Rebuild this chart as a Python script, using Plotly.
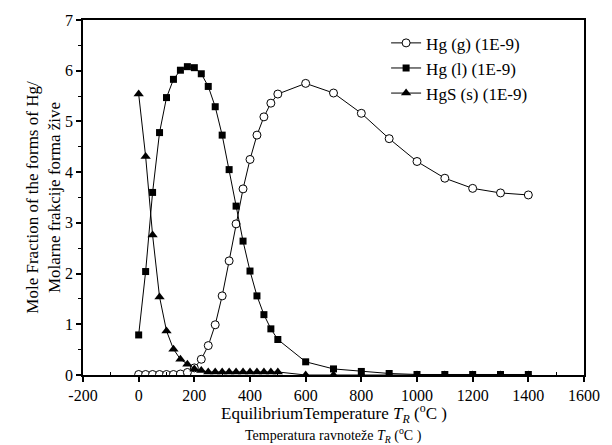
import plotly.graph_objects as go

T_low = [0, 25, 50, 75, 100, 125, 150, 175, 200, 225, 250, 275, 300, 325, 350,
         375, 400, 425, 450, 475, 500]
T_high = [600, 700, 800, 900, 1000, 1100, 1200, 1300, 1400]
T = T_low + T_high

hg_g = [0.01, 0.01, 0.01, 0.01, 0.01, 0.01, 0.02, 0.05, 0.14, 0.31, 0.58, 0.99, 1.56,
        2.25, 2.98, 3.67, 4.25, 4.73, 5.09, 5.36, 5.54,
        5.75, 5.56, 5.16, 4.66, 4.21, 3.88, 3.68, 3.59, 3.55]
hg_l = [0.79, 2.04, 3.60, 4.78, 5.47, 5.83, 6.01, 6.08, 6.06, 5.94, 5.69, 5.29, 4.73,
        4.05, 3.33, 2.64, 2.05, 1.56, 1.19, 0.91, 0.70,
        0.26, 0.12, 0.07, 0.03, 0.01, 0.01, 0.01, 0.01, 0.01]
hgs_s = [5.54, 4.31, 2.76, 1.54, 0.87, 0.51, 0.31, 0.21, 0.12, 0.09, 0.06, 0.06, 0.06,
         0.06, 0.06, 0.06, 0.06, 0.06, 0.06, 0.06, 0.06,
         0.0, 0.0, 0.0, 0.0, 0.0, 0.0, 0.0, 0.0, 0.0]

names = ["Hg (g) (1E-9)", "Hg (l) (1E-9)", "HgS (s) (1E-9)"]

x_tickvals = [-200, 0, 200, 400, 600, 800, 1000, 1200, 1400, 1600]
x_ticktext = ["-200", "0", "200", "400", "600", "800", "1000", "1200", "1400", "1600"]
x_minorvals = [-100, 100, 300, 500, 700, 900, 1100, 1300, 1500]
y_tickvals = [0, 1, 2, 3, 4, 5, 6, 7]
y_minorvals = [0.5, 1.5, 2.5, 3.5, 4.5, 5.5, 6.5]

x_title1 = "EquilibriumTemperature <i>T</i><sub><i>R</i></sub> (<sup>o</sup>C )"
x_title2 = "Temperatura ravnoteže <i>T</i><sub><i>R</i></sub> (<sup>o</sup>C )"
y_title = "Mole Fraction of the forms of Hg/<br>Molarne frakcije forma žive"

FONT = "Liberation Serif"
XR = [x_tickvals[0], x_tickvals[-1]]
YR = [y_tickvals[0], y_tickvals[-1]]

fig = go.Figure()
fig.add_trace(go.Scatter(x=T, y=hg_g, name=names[0], mode="lines+markers",
                         line=dict(color="black", width=1),
                         marker=dict(symbol="circle", size=8, color="white",
                                     line=dict(color="black", width=1))))
fig.add_trace(go.Scatter(x=T, y=hg_l, name=names[1], mode="lines+markers",
                         line=dict(color="black", width=1),
                         marker=dict(symbol="square", size=7, color="black",
                                     line=dict(color="black", width=0))))
fig.add_trace(go.Scatter(x=T, y=hgs_s, name=names[2], mode="lines+markers",
                         line=dict(color="black", width=1),
                         marker=dict(symbol="triangle-up", size=9, color="black",
                                     line=dict(color="black", width=0))))

common = dict(showgrid=False, zeroline=False)
fig.update_layout(
    width=612, height=445,
    margin=dict(l=83, r=25, t=20, b=70),
    paper_bgcolor="white", plot_bgcolor="white",
    font=dict(family=FONT, size=15, color="black"),
    showlegend=True,
    legend=dict(x=0.605, y=0.985, xanchor="left", yanchor="top",
                bgcolor="rgba(0,0,0,0)", borderwidth=0,
                font=dict(family=FONT, size=17), tracegroupgap=0),
    xaxis=dict(range=XR, tickmode="array", tickvals=x_tickvals, ticktext=x_ticktext,
               showline=True, mirror=True, linecolor="black", linewidth=1.5,
               ticks="outside", ticklen=5, tickwidth=1.5, tickcolor="black",
               minor=dict(tickmode="array", tickvals=x_minorvals, ticks="inside",
                          ticklen=3, tickwidth=1, tickcolor="black", showgrid=False),
               tickfont=dict(family=FONT, size=16), **common),
    yaxis=dict(range=YR, tickmode="array", tickvals=y_tickvals,
               showline=True, mirror=True, linecolor="black", linewidth=1.5,
               ticks="outside", ticklen=5, tickwidth=1.5, tickcolor="black",
               minor=dict(tickmode="array", tickvals=y_minorvals, ticks="outside",
                          ticklen=3, tickwidth=1, tickcolor="black", showgrid=False),
               tickfont=dict(family=FONT, size=16),
               title=dict(text=y_title, font=dict(family=FONT, size=17), standoff=0), **common),
)

fig.add_annotation(text=x_title1, xref="paper", yref="paper", x=0.5, y=0, yshift=-24,
                   xanchor="center", yanchor="top", showarrow=False,
                   font=dict(family=FONT, size=17))
fig.add_annotation(text=x_title2, xref="paper", yref="paper", x=0.5, y=0, yshift=-48,
                   xanchor="center", yanchor="top", showarrow=False,
                   font=dict(family=FONT, size=14))

fig.write_html("out.html", config={"displayModeBar": False},
               post_script="document.body.style.margin='0';")
